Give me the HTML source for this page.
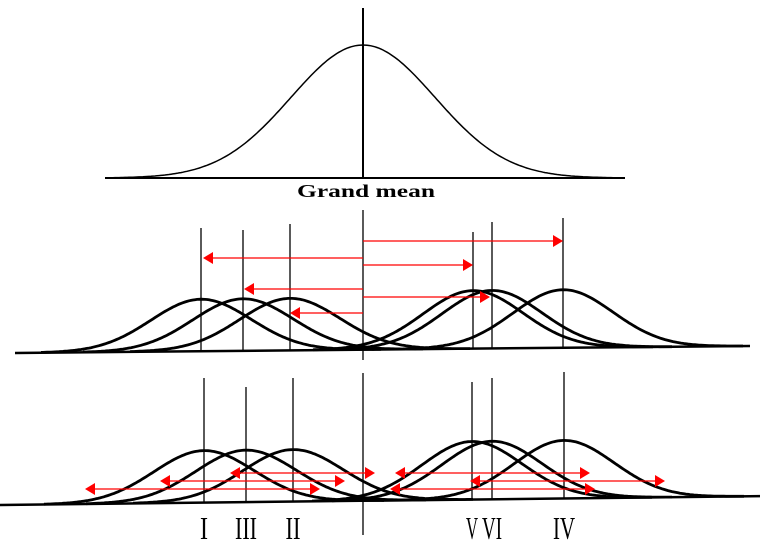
<!DOCTYPE html>
<html><head><meta charset="utf-8"><style>
html,body{margin:0;padding:0;background:#fff}
svg{display:block}
</style></head><body>
<svg id="chart" width="774" height="541" viewBox="0 0 774 541" xmlns="http://www.w3.org/2000/svg">
<g id="topg"></g>
<g id="midg"></g>
<g id="botg"></g>
</svg>
<script>
const groupLabels = ["I","III","II","V","VI","IV"];
const labelWidths = [8,22,15,12,20,22];
const midMeans = [201,243,290,473,492,563];
const botMeans = [204,246,293,472,492,564];
const midLineTops = [228,230,224,232,222,218];
const botLineTops = [378,387,378,382,378,372];
const grandMean = 363;
const midArrowTargets = [563,203,473,244,490,290];
const midArrowYs = [241,258,265,289,297,313];
const botArrowStarts = [230,160,85,395,470,390];
const botArrowEnds = [375,345,320,590,665,595];
const botArrowYs = [473,481,489,473,481,489];

const NS="http://www.w3.org/2000/svg";
function mk(parent,tag,attrs){const e=document.createElementNS(NS,tag);for(const k in attrs)e.setAttribute(k,attrs[k]);parent.appendChild(e);return e;}

function gauss(parent,mu,sigma,h,base,x0,x1,sw){
  let d="";
  for(let x=x0;x<=x1;x+=2){const y=base(x)-h*Math.exp(-0.5*((x-mu)/sigma)**2);d+=(d?"L":"M")+x.toFixed(1)+","+y.toFixed(1);}
  return mk(parent,"path",{d:d,fill:"none",stroke:"#000","stroke-width":sw});
}
function arrowHead(parent,x,y,dir){
  return mk(parent,"polygon",{points:`${x},${y} ${x-dir*10},${y-6} ${x-dir*10},${y+6}`,fill:"#f00"});
}

// top panel
const topPanel=document.getElementById("topg");
const tb=x=>178;
let el=mk(topPanel,"line",{x1:105,y1:178,x2:625,y2:178,stroke:"#000","stroke-width":2});


el=gauss(topPanel,grandMean,72,133,tb,105,625,1.5);


el=mk(topPanel,"line",{x1:grandMean,y1:8,x2:grandMean,y2:178,stroke:"#000","stroke-width":2});


el=mk(topPanel,"text",{x:297,y:197,"font-family":"Liberation Serif, serif","font-size":18,"font-weight":"bold",textLength:138,lengthAdjust:"spacingAndGlyphs"});
el.textContent="Grand mean";



function panel(g,means,tops,baseFn,bx0,bx1,sigma,h,gmTop,gmBot,name){
  const b=mk(g,"line",{x1:bx0,y1:baseFn(bx0),x2:bx1,y2:baseFn(bx1),stroke:"#000","stroke-width":2.5});
  
  
  means.forEach((m,i)=>{
    const hh=i<3?h:h+6;
    const c=gauss(g,m,sigma,hh,baseFn,Math.round(m-3.2*sigma),Math.round(m+3.6*sigma),2.8);
    
    
    const l=mk(g,"line",{x1:m,y1:tops[i],x2:m,y2:baseFn(m),stroke:"#000","stroke-width":1.3});
    
    
  });
  const gl=mk(g,"line",{x1:grandMean,y1:gmTop,x2:grandMean,y2:gmBot,stroke:"#000","stroke-width":1.3});
  
  
}

// middle panel
const midPanel=document.getElementById("midg");
const mb=x=>353-(x-15)*7/735;
panel(midPanel,midMeans,midLineTops,mb,15,750,50,52,210,360,'middle');
midArrowTargets.forEach((t,i)=>{
  const y=midArrowYs[i];const dir=t>grandMean?1:-1;
  const a=mk(midPanel,"line",{x1:grandMean,y1:y,x2:t-dir*8,y2:y,stroke:"#f00","stroke-width":1.3});
  
  
  const hd=arrowHead(midPanel,t,y,dir);
  
  
});

// bottom panel
const botPanel=document.getElementById("botg");
const bb=x=>505-x*9/774;
panel(botPanel,botMeans,botLineTops,bb,0,760,50,52,373,535,'bottom');
botArrowStarts.forEach((s,i)=>{
  const t=botArrowEnds[i],y=botArrowYs[i];
  const a=mk(botPanel,"line",{x1:s+8,y1:y,x2:t-8,y2:y,stroke:"#f00","stroke-width":1.3});
  
  
  const h1=arrowHead(botPanel,s,y,-1);
  
  
  const h2=arrowHead(botPanel,t,y,1);
  
  
});
groupLabels.forEach((lab,i)=>{
  const w=labelWidths[i];
  const t=mk(botPanel,"text",{x:botMeans[i]-w/2,y:539,"font-family":"Liberation Serif, serif","font-size":32,textLength:w,lengthAdjust:"spacingAndGlyphs"});
  t.textContent=lab;
  
  
});
</script>
</body></html>
